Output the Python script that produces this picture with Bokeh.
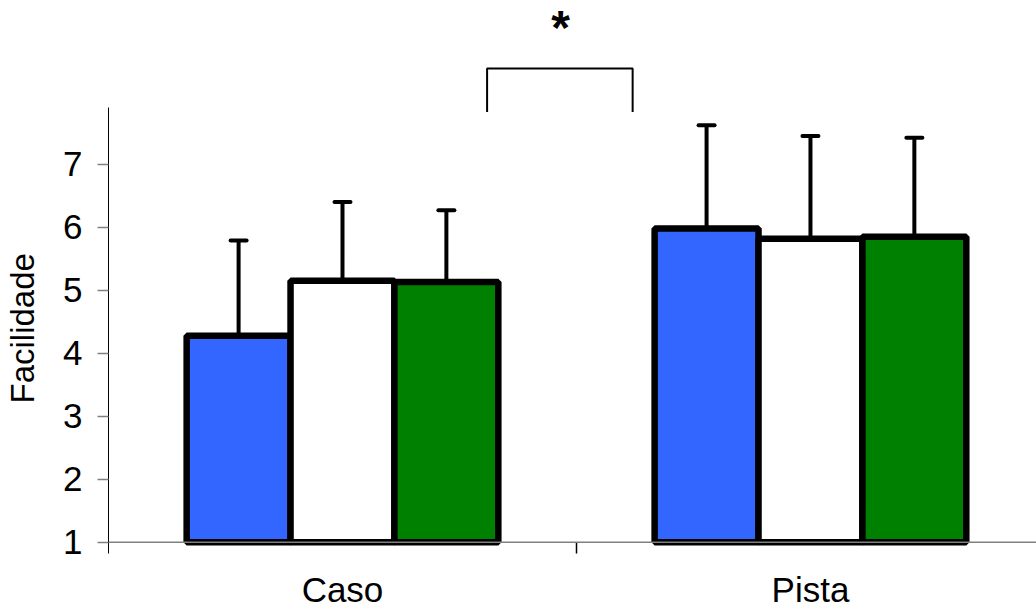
import numpy as np
from bokeh.plotting import figure
from bokeh.models import Range1d, FixedTicker, Span, ColumnDataSource, Whisker, TeeHead, Title
from bokeh.core.properties import value
from bokeh.embed import file_html
from bokeh.resources import INLINE

# ---- data ----
categories = ["Caso", "Pista"]
series = ["Série 1", "Série 2", "Série 3"]
means_1 = [4.28, 5.98]
means_2 = [5.15, 5.82]
means_3 = [5.13, 5.85]
sd_1 = [1.51, 1.64]
sd_2 = [1.25, 1.63]
sd_3 = [1.14, 1.57]
y_ticks = [1, 2, 3, 4, 5, 6, 7]
y_label = "Facilidade"
sig_x = [0.809, 0.809, 1.120, 1.120]
sig_y = [7.83, 8.52, 8.52, 7.83]
sig_text = "*"
sig_pos = (0.966, 9.59)

# ---- styles ----
colors = ["#3366FF", "#FFFFFF", "#008000"]
FONT = "Liberation Sans"
bar_w = 0.222
offsets = [-0.222, 0.0, 0.222]
y_lo, y_hi = 0.821, 9.601
y_axis_top = 7.905

p = figure(width=1036, height=611, output_backend="svg", toolbar_location=None,
           x_range=Range1d(0, 1.983), y_range=Range1d(y_lo, y_hi),
           min_border_left=108, min_border_right=0, min_border_top=0,
           min_border_bottom=57)
p.outline_line_color = None
p.xgrid.visible = False
p.ygrid.visible = False
p.background_fill_color = "white"
p.border_fill_color = "white"

# x axis line at y = 1
p.add_layout(Span(location=1, dimension="width", line_color="#808080", line_width=1.5))

means = [means_1, means_2, means_3]
sds = [sd_1, sd_2, sd_3]
base_x = np.arange(len(categories)) + 0.5

for k in range(3):
    xs = base_x + offsets[k]
    m = np.array(means[k])
    s = np.array(sds[k])
    src = ColumnDataSource(dict(x=xs, top=m, upper=m + s, cat=categories))
    w = Whisker(source=src, base="x", lower="top", upper="upper", dimension="height",
                line_color="black", line_width=4, lower_head=None,
                upper_head=TeeHead(size=16, line_width=4, line_color="black", line_cap="round"))
    p.add_layout(w)
    p.vbar(x="x", top="top", bottom=1, width=bar_w, source=src,
           fill_color=colors[k], line_color="black", line_width=6.5)

# significance bracket
p.line(sig_x, sig_y, line_color="black", line_width=2)
p.text(x=[sig_pos[0]], y=[sig_pos[1]], text=[sig_text], text_font=value(FONT),
       text_font_size="48px", text_font_style="bold", text_align="center",
       text_baseline="top", text_color="black")

# y axis
yax = p.yaxis[0]
yax.ticker = FixedTicker(ticks=y_ticks)
yax.bounds = (y_lo, y_axis_top)
yax.axis_line_color = "black"
yax.axis_line_width = 1
yax.major_tick_line_color = "#808080"
yax.major_tick_line_width = 1.5
yax.major_tick_out = 11
yax.major_tick_in = 0
yax.minor_tick_line_color = None
yax.major_label_text_font = FONT
yax.major_label_text_font_size = "35px"
yax.major_label_text_color = "black"
yax.major_label_standoff = 15

# spacer between the axis and its title, then the title along the drawn axis line
p.add_layout(Title(text=" ", text_font_size="1px", standoff=14), "left")
p.add_layout(Title(text=y_label, align="left", offset=150, vertical_align="top",
                   text_font=FONT, text_font_size="33px", text_font_style="normal",
                   text_color="black", standoff=2), "left")

# x axis
xax = p.xaxis[0]
xax.ticker = FixedTicker(ticks=list(base_x), minor_ticks=[1.0])
xax.major_label_overrides = {float(b): c for b, c in zip(base_x, categories)}
xax.axis_line_color = None
xax.major_tick_line_color = None
xax.minor_tick_line_color = "black"
xax.minor_tick_line_width = 1.5
xax.minor_tick_in = 11
xax.minor_tick_out = 0
xax.major_label_text_font = FONT
xax.major_label_text_font_size = "35px"
xax.major_label_text_color = "black"
xax.major_label_standoff = 10

open("out.html", "w").write(file_html(p, INLINE))
